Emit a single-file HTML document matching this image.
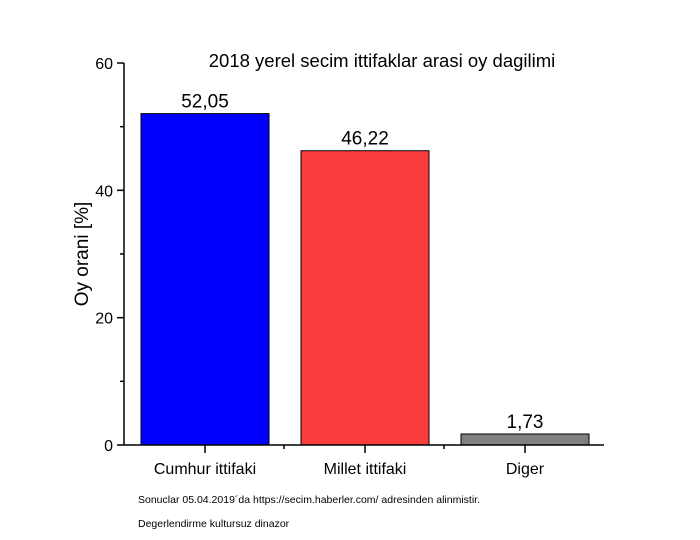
<!DOCTYPE html>
<html><head><meta charset="utf-8"><style>
body{margin:0;background:#fff;}
text{font-family:"Liberation Sans",Arial,sans-serif;fill:#000;}
</style></head><body>
<svg id="chart" width="700" height="535" xmlns="http://www.w3.org/2000/svg">
<text x="382" y="67" font-size="18.5" text-anchor="middle">2018 yerel secim ittifaklar arasi oy dagilimi</text>
<text transform="translate(88,254) rotate(-90)" font-size="19" text-anchor="middle">Oy orani [%]</text>
<g id="bars"></g>
<g id="axes"></g>
<text x="138" y="503" font-size="10.5">Sonuclar 05.04.2019´da https://secim.haberler.com/ adresinden alinmistir.</text>
<text x="138" y="527" font-size="10.5">Degerlendirme kultursuz dinazor</text>
</svg>
<script>
const categories=["Cumhur ittifaki","Millet ittifaki","Diger"];
const values=[52.05,46.22,1.73];
const valueLabels=["52,05","46,22","1,73"];
const colors=["#0000ff","#fa3c3c","#808080"];
const yTicks=[0,20,40,60];
const NS="http://www.w3.org/2000/svg";
const X0=124,X1=604,Y0=445,Y1=63,YMAX=60;
const y=v=>Y0-(v/YMAX)*(Y0-Y1);
const band=(X1-X0)/categories.length;
const xc=i=>X0+1+band*(i+0.5);
const bw=128;
function mk(t,a,p){const e=document.createElementNS(NS,t);for(const k in a)e.setAttribute(k,a[k]);p.appendChild(e);return e;}
const bars=document.getElementById('bars'),axes=document.getElementById('axes');
values.forEach((v,i)=>{
 const r=mk('rect',{x:xc(i)-bw/2,y:y(v),width:bw,height:Y0-y(v),fill:colors[i],stroke:'#000','stroke-width':1},bars);
 
 
 const t=mk('text',{x:xc(i),y:y(v)-6,'font-size':19,'text-anchor':'middle'},bars);t.textContent=valueLabels[i];
 
 
 const c=mk('text',{x:xc(i),y:Y0+29,'font-size':16,'text-anchor':'middle'},axes);c.textContent=categories[i];
 
 
 const tk=mk('line',{x1:xc(i),x2:xc(i),y1:Y0,y2:Y0+8,stroke:'#000','stroke-width':1.5},axes);
 
 
 if(i>0){const m=mk('line',{x1:X0+band*i,x2:X0+band*i,y1:Y0,y2:Y0+4,stroke:'#000','stroke-width':1.5},axes);
 
 }
});
const ya=mk('line',{x1:X0,x2:X0,y1:Y1,y2:Y0,stroke:'#000','stroke-width':1.5},axes);


const xa=mk('line',{x1:X0,x2:X1,y1:Y0,y2:Y0,stroke:'#000','stroke-width':1.5},axes);


yTicks.forEach((v,i)=>{
 const l=mk('line',{x1:X0-7,x2:X0,y1:y(v),y2:y(v),stroke:'#000','stroke-width':1.5},axes);
 
 
 const t=mk('text',{x:X0-11,y:y(v)+6,'font-size':16,'text-anchor':'end'},axes);t.textContent=v;
 
 
 if(i<yTicks.length-1){const m=mk('line',{x1:X0-4,x2:X0,y1:y(v+10),y2:y(v+10),stroke:'#000','stroke-width':1.5},axes);
 
 }
});
</script>
</body></html>
